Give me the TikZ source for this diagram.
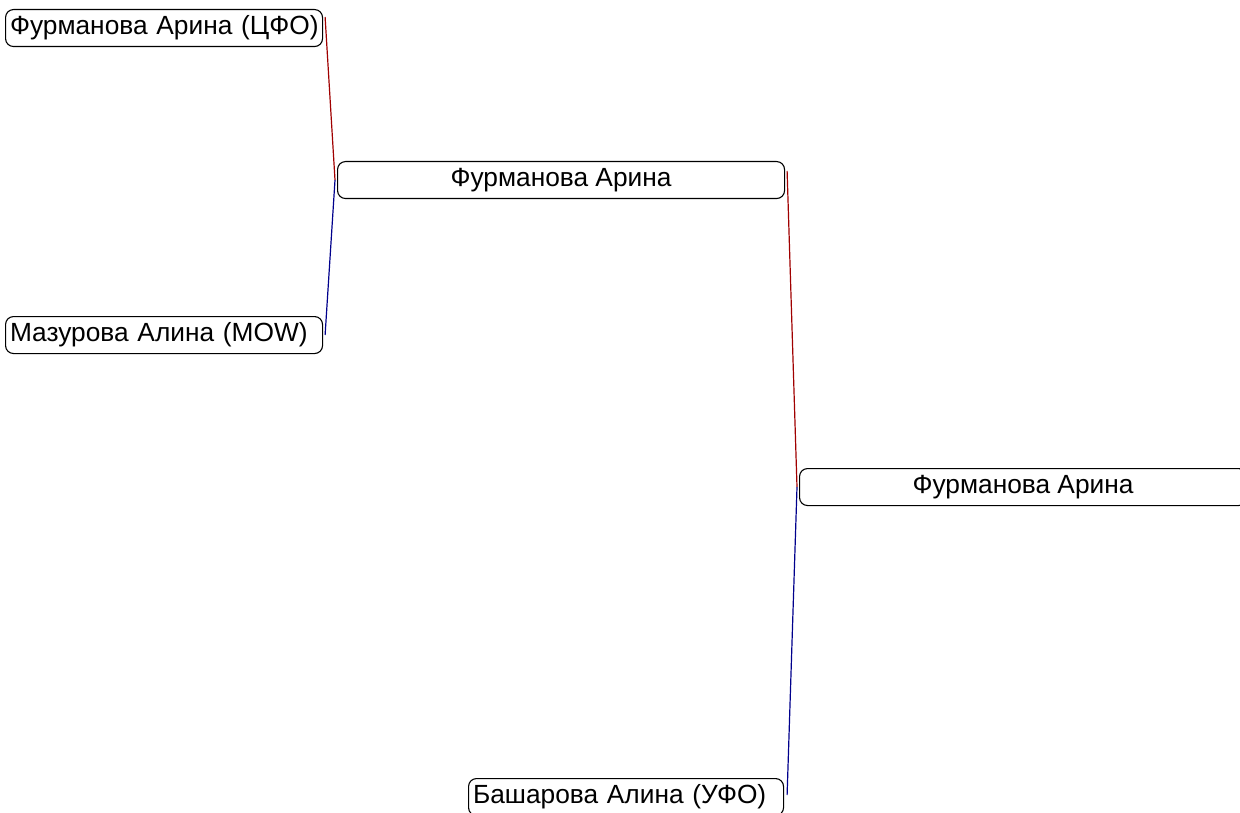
\documentclass[tikz,border=0pt]{standalone}
\usepackage{fontspec}
\setmainfont{Liberation Sans}
\definecolor{upper}{RGB}{160,0,0}
\definecolor{lower}{RGB}{0,0,140}
\tikzset{
  player/.style={draw, line width=1.1pt, rounded corners=8pt, anchor=north west, inner sep=0pt, minimum height=37pt, text width=#1, align=left, inner xsep=4.5pt, font=\fontsize{26.3}{30}\selectfont},
  winner/.style={draw, line width=1.1pt, rounded corners=8pt, anchor=north west, inner sep=0pt, minimum height=37pt, minimum width=447pt, align=center, font=\fontsize{26.3}{30}\selectfont},
  upline/.style={draw=upper, line width=1.2pt},
  lowline/.style={draw=lower, line width=1.2pt}
}
\begin{document}
\begin{tikzpicture}[x=1pt, y=-1pt]
\useasboundingbox (0,0) rectangle (1240,813);
\node[player=308pt] (a) at (5,9) {\mbox{Фурманова Арина (ЦФО)}};
\node[player=308pt] (c) at (5,316) {\mbox{Мазурова Алина (MOW)}};
\node[winner] (b) at (337,161) {Фурманова Арина};
\node[winner] (d) at (799,468) {Фурманова Арина};
\node[player=306pt] (e) at (468,778) {\mbox{Башарова Алина (УФО)}};
\draw[upline] ([shift={(2,8)}]a.north east) -- ([xshift=-2pt]b.west);
\draw[lowline] ([xshift=-2pt]b.west) -- ([shift={(2,19)}]c.north east);
\draw[upline] ([shift={(2,10)}]b.north east) -- ([xshift=-2pt]d.west);
\draw[lowline] ([xshift=-2pt]d.west) -- ([shift={(3,17)}]e.north east);
\end{tikzpicture}
\end{document}
